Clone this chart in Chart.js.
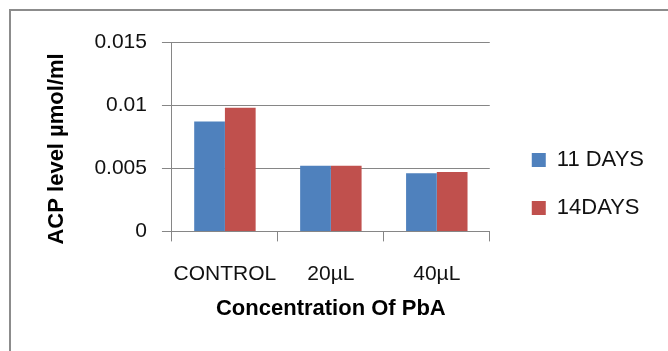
<!DOCTYPE html>
<html>
<head>
<meta charset="utf-8">
<script src="https://cdn.jsdelivr.net/npm/chart.js@4/dist/chart.umd.min.js"></script>
<style>
  html, body { margin: 0; padding: 0; background: #fff; overflow: hidden; }
  #marco {
    position: absolute; left: 9px; top: 9px; width: 700px; height: 400px;
    border-left: 2px solid #8c8c8c; border-top: 2px solid #8c8c8c;
  }
  #grafica { position: absolute; left: 0; top: 0; }
</style>
</head>
<body>
<div id="marco"></div>
<canvas id="grafica" width="668" height="351"></canvas>
<script>
// Datos
const categorias = ["CONTROL", "20µL", "40µL"];
const dias11 = [0.0087, 0.0052, 0.0046];
const dias14 = [0.0098, 0.0052, 0.0047];
const nombresSeries = ["11 DAYS", "14DAYS"];

const fuente = "'Liberation Sans', Arial, sans-serif";
const gris = '#868686';

const $grafica = document.querySelector("#grafica");

new Chart($grafica, {
    type: 'bar',
    data: {
        labels: categorias,
        datasets: [
            { label: nombresSeries[0], data: dias11, backgroundColor: '#4F81BD' },
            { label: nombresSeries[1], data: dias14, backgroundColor: '#C0504D' },
        ]
    },
    options: {
        responsive: false,
        animation: false,
        categoryPercentage: 0.58,
        barPercentage: 1,
        layout: { padding: { top: 42, right: 14, bottom: 25, left: 30 } },
        plugins: {
            tooltip: { enabled: false },
            legend: {
                position: 'right',
                align: 'center',
                labels: {
                    boxWidth: 14,
                    boxHeight: 14,
                    padding: 26,
                    color: '#111',
                    font: { family: fuente, size: 22 }
                }
            }
        },
        scales: {
            x: {
                grid: { drawOnChartArea: false, drawTicks: true, tickLength: 10, color: gris },
                border: { color: gris },
                ticks: {
                    color: '#111', padding: 20, maxRotation: 0, minRotation: 0, autoSkip: false,
                    font: { family: fuente, size: 21 }
                },
                title: {
                    display: true,
                    text: 'Concentration Of PbA',
                    color: '#000',
                    padding: { top: -11, bottom: 4 },
                    font: { family: fuente, size: 22, weight: 'bold' }
                }
            },
            y: {
                min: 0,
                max: 0.015,
                grid: { color: gris, tickLength: 10 },
                border: { color: gris },
                ticks: {
                    stepSize: 0.005,
                    color: '#111',
                    padding: 15,
                    font: { family: fuente, size: 21 },
                    callback: (v) => String(Number(v.toFixed(3)))
                },
                title: {
                    display: true,
                    text: 'ACP level µmol/ml    ',
                    color: '#000',
                    padding: { top: 14, bottom: 9 },
                    font: { family: fuente, size: 22, weight: 'bold' }
                }
            },
            // eje oculto que sólo separa la leyenda del área de la gráfica
            separador: {
                type: 'linear',
                position: 'right',
                display: false,
                afterFit: (escala) => { escala.width = 16; }
            }
        }
    }
});
</script>
</body>
</html>
